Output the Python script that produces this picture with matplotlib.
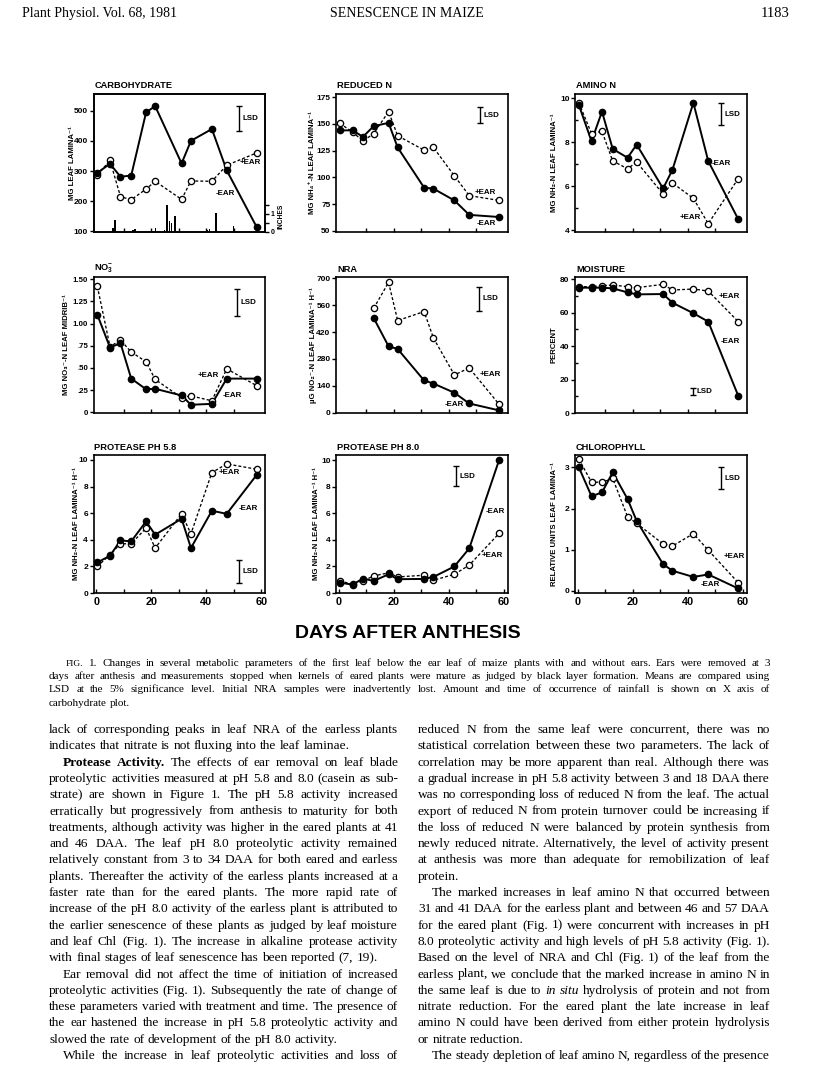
import matplotlib
matplotlib.use('Agg')
import matplotlib.pyplot as plt

# ---------------- data ----------------
DAYS = [0.4, 5, 8.8, 12.7, 18.1, 21.4, 31, 34.4, 42, 47.4, 58.3]
NRA_DAYS = DAYS[3:]

CARB_NOEAR = [294, 324, 281, 285, 494, 515, 325, 400, 439, 302, 114]
CARB_EAR = [287, 335, 215, 205, 240, 266, 206, 267, 266, 319, 360]
RAIN_DAYS = [6.0, 6.8, 13.4, 14.1, 21.5, 24.8, 25.7, 26.6, 27.3, 28.6, 40.2, 41.2, 43.6, 49.9]
RAIN_INCHES = [0.24, 0.67, 0.11, 0.15, 0.24, 0.11, 1.52, 0.61, 0.52, 0.89, 0.11, 0.19, 1.07, 0.33]

REDN_NOEAR = [144, 144, 138, 148, 151, 128, 90.5, 89.5, 78.5, 65, 63]
REDN_EAR = [150.5, 142.5, 134, 141, 161.5, 139, 125.5, 128, 101.5, 83, 78.5]

AMINO_NOEAR = [9.7, 8.05, 9.4, 7.7, 7.3, 7.9, 5.9, 6.75, 9.8, 7.15, 4.5]
AMINO_EAR = [9.8, 8.4, 8.5, 7.15, 6.8, 7.1, 5.65, 6.15, 5.45, 4.3, 6.35]

NO3_NOEAR = [1.10, 0.73, 0.78, 0.38, 0.26, 0.265, 0.19, 0.085, 0.095, 0.38, 0.38]
NO3_EAR = [1.42, 0.74, 0.815, 0.68, 0.57, 0.37, 0.165, 0.185, 0.13, 0.49, 0.30]

NRA_NOEAR = [493, 346, 332, 168, 152, 104, 48, 12]
NRA_EAR = [544, 679, 480, 527, 389, 197, 233, 43]

MOIST_NOEAR = [75, 75, 75, 74.6, 72.2, 71, 71.2, 66, 59.7, 54.7, 10.3]
MOIST_EAR = [75.6, 75.6, 76.2, 76.6, 75.6, 75, 77, 73.6, 74.2, 73, 54.7]

P58_NOEAR = [2.3, 2.8, 3.95, 3.88, 5.38, 4.38, 5.58, 3.38, 6.18, 5.95, 8.88]
P58_EAR = [2.0, 2.88, 3.7, 3.7, 4.88, 3.38, 5.95, 4.45, 9.05, 9.7, 9.3]

P80_NOEAR = [0.78, 0.63, 1.09, 0.91, 1.41, 1.04, 1.06, 1.21, 2.0, 3.36, 10.05]
P80_EAR = [0.91, 0.66, 0.91, 1.29, 1.52, 1.21, 1.34, 0.96, 1.41, 2.1, 4.5]

CHL_NOEAR = [3.0, 2.30, 2.39, 2.88, 2.23, 1.70, 0.65, 0.49, 0.34, 0.40, 0.06]
CHL_EAR = [3.2, 2.64, 2.64, 2.73, 1.80, 1.64, 1.14, 1.09, 1.39, 0.99, 0.20]

# LSD bars: (day, low, high)
LSD = {
    'carb': (51.7, 434, 515), 'redn': (51.3, 150.6, 165.8), 'amino': (51.9, 8.79, 9.78),
    'no3': (51.0, 1.09, 1.387), 'nra': (51.0, 532, 657), 'moist': (42.0, 10.5, 14.9),
    'p58': (51.8, 0.75, 2.5), 'p80': (42.7, 8.03, 9.55), 'chl': (51.9, 2.47, 3.0),
}
# curve labels: (day, value) for +EAR and -EAR
LABEL_EAR = {'carb': (55.8, 327), 'redn': (53.1, 85.8), 'amino': (41, 4.6), 'no3': (40.7, 0.41),
             'nra': (55, 199), 'moist': (55, 70), 'p58': (48.5, 9.05), 'p80': (55.8, 2.85),
             'chl': (56.8, 0.84)}
LABEL_NOEAR = {'carb': (47, 226), 'redn': (53.7, 56.6), 'amino': (52.3, 7.04), 'no3': (49.3, 0.188),
               'nra': (41.9, 43), 'moist': (55.6, 42.8), 'p58': (55.3, 6.38), 'p80': (56.8, 6.14),
               'chl': (48.1, 0.16)}

TITLES = {'carb': 'CARBOHYDRATE', 'redn': 'REDUCED N', 'amino': 'AMINO N',
          'no3': r'NO$_\mathbf{3}^\mathbf{-}$',
          'nra': 'NRA', 'moist': 'MOISTURE', 'p58': 'PROTEASE PH 5.8', 'p80': 'PROTEASE PH 8.0',
          'chl': 'CHLOROPHYLL'}
YLABELS = {'carb': 'MG LEAF LAMINA⁻¹', 'redn': 'MG NH₄⁺-N LEAF LAMINA⁻¹',
           'amino': 'MG NH₂-N LEAF LAMINA⁻¹', 'no3': 'MG NO₃⁻-N LEAF MIDRIB⁻¹',
           'nra': 'µG NO₂⁻-N LEAF LAMINA⁻¹ H⁻¹', 'moist': 'PERCENT',
           'p58': 'MG NH₂-N LEAF LAMINA⁻¹ H⁻¹', 'p80': 'MG NH₂-N LEAF LAMINA⁻¹ H⁻¹',
           'chl': 'RELATIVE UNITS LEAF LAMINA⁻¹'}
YTICKS = {'carb': [100, 200, 300, 400, 500], 'redn': [50, 75, 100, 125, 150, 175],
          'amino': [4, 6, 8, 10], 'no3': [0, 0.25, 0.5, 0.75, 1.0, 1.25, 1.5],
          'nra': [0, 140, 280, 420, 560, 700], 'moist': [0, 20, 40, 60, 80],
          'p58': [0, 2, 4, 6, 8, 10], 'p80': [0, 2, 4, 6, 8, 10], 'chl': [0, 1, 2, 3]}
YTICKLABELS = {'no3': ['0', '.25', '.50', '.75', '1.00', '1.25', '1.50']}
YMINOR = {'amino': [5, 7, 9], 'moist': [10, 30, 50, 70]}
XTICKLABELS_BOTTOM = ['0', '', '20', '', '40', '', '60']

HEADER = ['Plant Physiol. Vol. 68, 1981', 'SENESCENCE IN MAIZE', '1183']
XLABEL = 'DAYS AFTER ANTHESIS'

CAPTION = [
    'FIG. 1. Changes in several metabolic parameters of the first leaf below the ear leaf of maize plants with and without ears. Ears were removed at 3',
    'days after anthesis and measurements stopped when kernels of eared plants were mature as judged by black layer formation. Means are compared using',
    'LSD at the 5% significance level. Initial NRA samples were inadvertently lost. Amount and time of occurrence of rainfall is shown on X axis of',
    'carbohydrate plot.',
]
LEFT_COL = [
    'lack of corresponding peaks in leaf NRA of the earless plants',
    'indicates that nitrate is not fluxing into the leaf laminae.',
    '**Protease** **Activity.** The effects of ear removal on leaf blade',
    'proteolytic activities measured at pH 5.8 and 8.0 (casein as sub-',
    'strate) are shown in Figure 1. The pH 5.8 activity increased',
    'erratically but progressively from anthesis to maturity for both',
    'treatments, although activity was higher in the eared plants at 41',
    'and 46 DAA. The leaf pH 8.0 proteolytic activity remained',
    'relatively constant from 3 to 34 DAA for both eared and earless',
    'plants. Thereafter the activity of the earless plants increased at a',
    'faster rate than for the eared plants. The more rapid rate of',
    'increase of the pH 8.0 activity of the earless plant is attributed to',
    'the earlier senescence of these plants as judged by leaf moisture',
    'and leaf Chl (Fig. 1). The increase in alkaline protease activity',
    'with final stages of leaf senescence has been reported (7, 19).',
    'Ear removal did not affect the time of initiation of increased',
    'proteolytic activities (Fig. 1). Subsequently the rate of change of',
    'these parameters varied with treatment and time. The presence of',
    'the ear hastened the increase in pH 5.8 proteolytic activity and',
    'slowed the rate of development of the pH 8.0 activity.',
    'While the increase in leaf proteolytic activities and loss of',
]
LEFT_INDENT = [2, 15, 20]
LEFT_LAST = [1, 14, 19]
RIGHT_COL = [
    'reduced N from the same leaf were concurrent, there was no',
    'statistical correlation between these two parameters. The lack of',
    'correlation may be more apparent than real. Although there was',
    'a gradual increase in pH 5.8 activity between 3 and 18 DAA there',
    'was no corresponding loss of reduced N from the leaf. The actual',
    'export of reduced N from protein turnover could be increasing if',
    'the loss of reduced N were balanced by protein synthesis from',
    'newly reduced nitrate. Alternatively, the level of activity present',
    'at anthesis was more than adequate for remobilization of leaf',
    'protein.',
    'The marked increases in leaf amino N that occurred between',
    '31 and 41 DAA for the earless plant and between 46 and 57 DAA',
    'for the eared plant (Fig. 1) were concurrent with increases in pH',
    '8.0 proteolytic activity and high levels of pH 5.8 activity (Fig. 1).',
    'Based on the level of NRA and Chl (Fig. 1) of the leaf from the',
    'earless plant, we conclude that the marked increase in amino N in',
    'the same leaf is due to __in__ __situ__ hydrolysis of protein and not from',
    'nitrate reduction. For the eared plant the late increase in leaf',
    'amino N could have been derived from either protein hydrolysis',
    'or nitrate reduction.',
    'The steady depletion of leaf amino N, regardless of the presence',
]
RIGHT_INDENT = [10, 20]
RIGHT_LAST = [9, 19]

# ---------------- figure ----------------
W, H = 816, 1073
plt.rcParams['font.family'] = ['Liberation Sans', 'DejaVu Sans']
plt.rcParams['font.weight'] = 'bold'
plt.rcParams['mathtext.fontset'] = 'custom'
plt.rcParams['mathtext.rm'] = 'Liberation Sans:bold'
plt.rcParams['mathtext.bf'] = 'Liberation Sans:bold'
plt.rcParams['mathtext.default'] = 'bf'
SANS = ['Liberation Sans', 'DejaVu Sans']
SERIF = ['Liberation Serif', 'DejaVu Serif']

fig = plt.figure(figsize=(W / 100, H / 100), dpi=100)
fig.patch.set_facecolor('white')


def fx(x):
    return x / W


def fy(y):
    return 1 - y / H


COLS = [93.5, 336.0, 575.0]
PW = 171.5
ROWS = [(94, 232), (277, 413), (455, 593)]
YLIMS = {'carb': (98, 555), 'redn': (49, 178), 'amino': (3.92, 10.2), 'no3': (-0.008, 1.526),
         'nra': (-1.5, 707), 'moist': (0, 81.4), 'p58': (0, 10.37), 'p80': (0, 10.4),
         'chl': (-0.05, 3.3)}
YLAB_X = {'carb': 72, 'redn': 313, 'amino': 555, 'no3': 67, 'nra': 313, 'moist': 554,
          'p58': 76, 'p80': 317, 'chl': 555}

PANELS = [
    ['carb', 'redn', 'amino'],
    ['no3', 'nra', 'moist'],
    ['p58', 'p80', 'chl'],
]
SERIES = {
    'carb': (DAYS, CARB_NOEAR, DAYS, CARB_EAR), 'redn': (DAYS, REDN_NOEAR, DAYS, REDN_EAR),
    'amino': (DAYS, AMINO_NOEAR, DAYS, AMINO_EAR), 'no3': (DAYS, NO3_NOEAR, DAYS, NO3_EAR),
    'nra': (NRA_DAYS, NRA_NOEAR, NRA_DAYS, NRA_EAR), 'moist': (DAYS, MOIST_NOEAR, DAYS, MOIST_EAR),
    'p58': (DAYS, P58_NOEAR, DAYS, P58_EAR), 'p80': (DAYS, P80_NOEAR, DAYS, P80_EAR),
    'chl': (DAYS, CHL_NOEAR, DAYS, CHL_EAR),
}

for ri, row in enumerate(PANELS):
    t, b = ROWS[ri]
    for ci, key in enumerate(row):
        l = COLS[ci]
        ax = fig.add_axes([fx(l), fy(b), PW / W, (b - t) / H])
        for sp in ax.spines.values():
            sp.set_linewidth(1.2)
        dn, vn, de, ve = SERIES[key]
        ax.plot(de, ve, linestyle=(0, (2.2, 1.6)), color='black', lw=0.95, zorder=2)
        ax.plot(dn, vn, '-', color='black', lw=1.4, zorder=3)
        ax.plot(de, ve, 'o', ms=4.5, mfc='white', mec='black', mew=0.95, zorder=4)
        ax.plot(dn, vn, 'o', ms=4.5, mfc='black', mec='black', zorder=5)
        ax.set_xlim(-1, 61.3)
        ax.set_ylim(*YLIMS[key])
        ax.set_yticks(YTICKS[key])
        if key in YTICKLABELS:
            ax.set_yticklabels(YTICKLABELS[key])
        if key in YMINOR:
            ax.set_yticks(YMINOR[key], minor=True)
            ax.tick_params(axis='y', which='minor', direction='in', length=2.5, width=1)
        ax.tick_params(axis='y', which='major', direction='out', length=3, width=1,
                       labelsize=6 if key != 'no3' else 5.7, pad=1)
        if ri == 2:
            ax.set_xticks([0, 10, 20, 30, 40, 50, 60])
            ax.set_xticklabels(XTICKLABELS_BOTTOM)
            ax.tick_params(axis='x', direction='in', length=3, width=1, labelsize=7.8, pad=3)
        else:
            ax.set_xticks([10, 20, 30, 40, 50])
            ax.tick_params(axis='x', direction='in', length=3, width=1, labelbottom=False)
        # LSD bar
        lx, lo, hi = LSD[key]
        ax.errorbar([lx], [(lo + hi) / 2], yerr=[(hi - lo) / 2], fmt='none', ecolor='black',
                    elinewidth=1.0, capsize=2.2, capthick=1.0, zorder=6)
        ax.text(lx + 1.3, (lo + hi) / 2, 'LSD', fontsize=5.7, fontweight='bold',
                ha='left', va='center')
        ex, ey = LABEL_EAR[key]
        ax.text(ex, ey, '+EAR', fontsize=5.7, fontweight='bold', ha='center', va='center')
        nx, ny = LABEL_NOEAR[key]
        ax.text(nx, ny, '-EAR', fontsize=5.7, fontweight='bold', ha='center', va='center')
        # title and y label
        fig.text(fx(l + 1), fy(t - 8), TITLES[key], fontsize=6.7, fontweight='bold',
                 ha='left', va='center', family=SANS)
        fig.text(fx(YLAB_X[key]), fy((t + b) / 2), YLABELS[key], fontsize=5.6,
                 fontweight='bold', rotation=90, ha='center', va='center', family=SANS)
        if key == 'carb':
            rx = ax.twinx()
            rx.bar(RAIN_DAYS, RAIN_INCHES, width=0.6, color='black', zorder=1)
            rx.set_ylim(0, (b - t) / 18.0)
            rx.set_yticks([0, 0.5, 1, 1.5])
            rx.set_yticklabels(['0', '', '1', ''])
            rx.tick_params(axis='y', direction='out', length=3, width=1, labelsize=5, pad=1)
            for sp in rx.spines.values():
                sp.set_linewidth(1.2)
            fig.text(fx(281), fy(216), 'INCHES', fontsize=4.8, fontweight='bold',
                     rotation=90, ha='center', va='center', family=SANS)

# x label
fig.text(fx(408), fy(634), XLABEL, fontsize=14, fontweight='bold', ha='center',
         va='center', family=SANS)

# header
fig.text(fx(22), fy(17), HEADER[0], fontsize=10, family=SERIF, weight='normal',
         ha='left', va='baseline')
fig.text(fx(407), fy(17), HEADER[1], fontsize=10, family=SERIF, weight='normal',
         ha='center', va='baseline')
fig.text(fx(790), fy(17), HEADER[2], fontsize=10.5, family=SERIF, weight='normal',
         ha='right', va='baseline')

renderer = fig.canvas.get_renderer()


def text_line(line, x0, x1, ybase, size, justify):
    objs = []
    for tok in line.split(' '):
        weight, style = 'normal', 'normal'
        if tok.startswith('**') and tok.endswith('**'):
            tok, weight = tok[2:-2], 'bold'
        elif tok.startswith('__') and tok.endswith('__'):
            tok, style = tok[2:-2], 'italic'
        s = size * 0.85 if tok == 'FIG.' else size
        objs.append(fig.text(0, fy(ybase), tok, fontsize=s, family=SERIF, weight=weight,
                             style=style, ha='left', va='baseline'))
    widths = [o.get_window_extent(renderer=renderer).width for o in objs]
    space = size * 100 / 72 * 0.25
    if justify and len(objs) > 1:
        gap = (x1 - x0 - sum(widths)) / (len(objs) - 1)
    else:
        gap = space
    x = x0
    for o, w in zip(objs, widths):
        o.set_x(fx(x))
        x += w + gap


CAP_L, CAP_R = 49, 770
for i, line in enumerate(CAPTION):
    y = 662 + i * 13.5 + 3.5
    x0 = CAP_L + 17 if i == 0 else CAP_L
    text_line(line, x0, CAP_R, y, 8.0, i < len(CAPTION) - 1)

BODY_Y0, BODY_DY = 729, 16.3
for col, indents, lasts, (x0, x1) in [(LEFT_COL, LEFT_INDENT, LEFT_LAST, (49, 398)),
                                      (RIGHT_COL, RIGHT_INDENT, RIGHT_LAST, (418, 770))]:
    for i, line in enumerate(col):
        y = BODY_Y0 + i * BODY_DY + 4
        xs = x0 + 14 if i in indents else x0
        text_line(line, xs, x1, y, 9.6, i not in lasts)

fig.savefig('out.png', dpi=100, facecolor='white')
